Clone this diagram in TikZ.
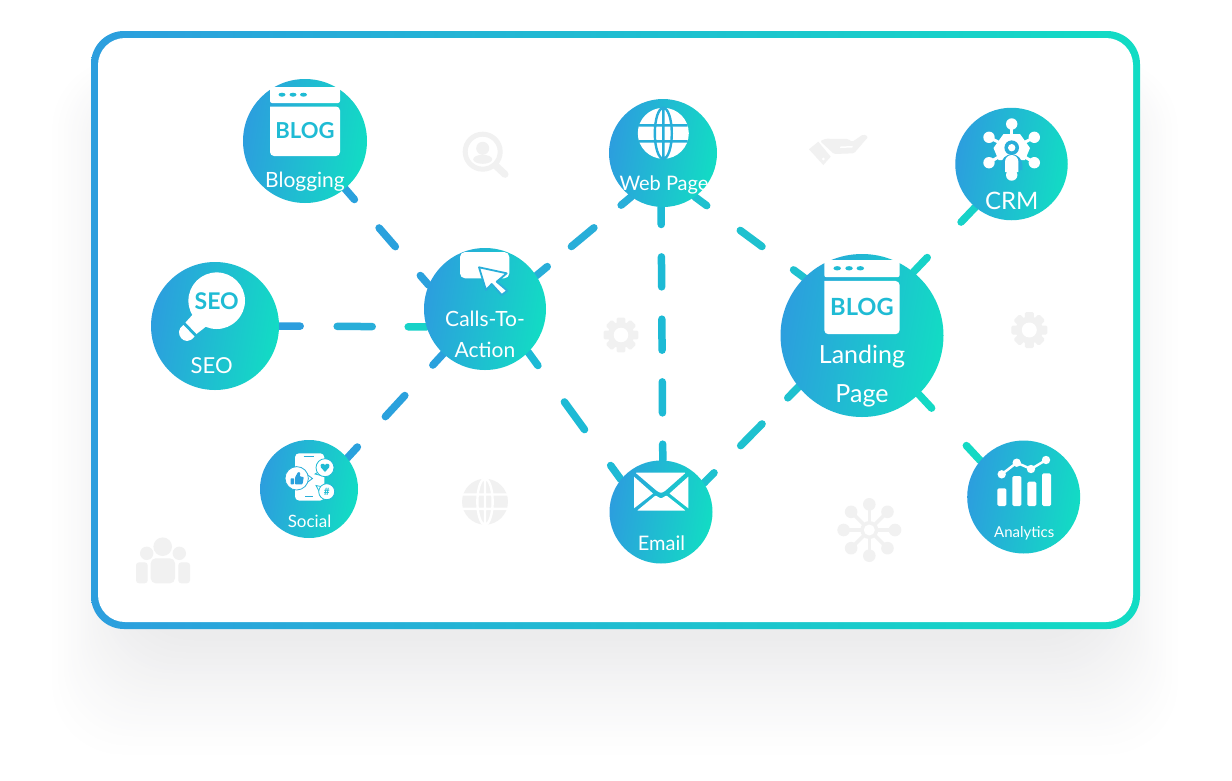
\documentclass[tikz,border=0pt]{standalone}
\usepackage{fontspec}
\setmainfont{Lato}
\usepackage{tikz}
\usetikzlibrary{calc}
\definecolor{hubblue}{HTML}{2C9EDE}
\definecolor{hubteal}{HTML}{12DCC4}
\definecolor{hubmid}{HTML}{1FBBD4}
\definecolor{wmgrey}{HTML}{F1F1F1}
\definecolor{linka}{HTML}{2AA1DD}
\definecolor{linkb}{HTML}{28AED9}
\definecolor{linkc}{HTML}{1DBAD5}
\definecolor{linkd}{HTML}{1EC1CF}
\definecolor{linke}{HTML}{17D2C8}
\definecolor{linkf}{HTML}{14D9C4}
\definecolor{haze}{HTML}{20202E}
\pgfdeclarelayer{back}
\pgfdeclarelayer{links}
\pgfsetlayers{back,links,main}
\tikzset{
  blogwin/.pic={
    \fill [white, rounded corners=2pt] (0, 0) rectangle (70, 16);
    \fill [white, rounded corners=4pt] (0, 19.5) -- (0, 69) -- (70, 69) -- (70, 19.5) [sharp corners] -- cycle;
    \foreach \x in {12, 23, 33.5}
      \fill [hubmid] (\x, 7.7) ellipse [x radius=3.5pt, y radius=2pt];
    \node (-word) at (35, 44) [text=hubmid, transform shape, font=\fontsize{22}{22}\selectfont\bfseries] {BLOG};
  },
  gearicon/.pic={
    \fill [wmgrey] (0, 0) circle [radius=13.5pt];
    \foreach \a in {0, 45, ..., 315}
      \fill [wmgrey, rotate=\a, rounded corners=1.5pt] (-4.5, -18) rectangle (4.5, -9);
    \fill [white] (0, 0) circle [radius=7.5pt];
  }
}
\newcommand{\globeicon}[5]{
  \begin{scope}[shift={(#1, #2)}, scale=#3]
    \fill [#4] (0, 0) circle [radius=25.5pt];
    \draw [#5, line width=2.4pt] (0, -25.5) -- (0, 25.5) (0, 0) ellipse [x radius=8.5pt, y radius=25.5pt]
      (-24.2, -8) -- (24.2, -8) (-24.2, 8) -- (24.2, 8);
  \end{scope}
}
\begin{document}
\begin{tikzpicture}[x=1pt, y=-1pt,
    hub/.style={circle, inner sep=0pt, left color=hubblue, right color=hubteal, shading angle=80},
    hubtext/.style={text=white, anchor=base, inner sep=0pt},
    link/.style={line width=7.5pt, line cap=round}]
\useasboundingbox (0, 0) rectangle (1232, 780);

\begin{pgfonlayer}{back}
\foreach \i in {40, 39, ..., 0} {
  \pgfmathsetmacro\tint{8.5*(1-\i/40)^1.2}
  \fill [haze!\tint!white, rounded corners=70pt] (125-1.9*\i, 90-.8*\i) rectangle (1105+1.9*\i, 640+3*\i);
}
\path [left color=hubblue, right color=hubteal, rounded corners=33pt] (91, 31) rectangle (1140, 629);
\fill [white, rounded corners=27pt] (98, 38) rectangle (1133, 622);
\end{pgfonlayer}

\node (blog) at (305, 141) [hub, minimum size=124pt] {};
\node (seo) at (215, 326) [hub, minimum size=128pt] {};
\node (cta) at (485, 309) [hub, minimum size=122pt] {};
\node (social) at (309, 489) [hub, minimum size=98pt] {};
\node (email) at (661, 512) [hub, minimum size=103pt] {};
\node (web) at (663, 153) [hub, minimum size=108pt] {};
\node (land) at (862, 335.5) [hub, minimum size=163pt] {};
\node (crm) at (1011.5, 164) [hub, minimum size=112.5pt] {};
\node (ana) at (1023.7, 497) [hub, minimum size=113pt] {};

\begin{pgfonlayer}{links}
\draw [link, linka, dash pattern=on 14.4pt off 37.6pt on 24.8pt off 38.2pt on 100pt] (blog.-50) -- (cta.157);
\draw [link, hubblue, dash pattern=on 21pt off 300pt] (seo.0) -- (cta.197);
\draw [link, linkb, dash pattern=on 35pt off 300pt, dash phase=277pt] (seo.0) -- (cta.197);
\draw [link, linke, dash pattern=on 30pt off 300pt, dash phase=201pt] (seo.0) -- (cta.197);
\draw [link, linka, dash pattern=on 15pt off 41.3pt on 28.7pt off 41.4pt on 100pt] (social.39) -- (cta.227);
\draw [link, linkb, dash pattern=on 14.2pt off 31.4pt on 29.3pt off 35.4pt on 100pt] (cta.33) -- (web.234);
\draw [link, linkc, dash pattern=on 16.4pt off 45pt on 34.2pt off 44.4pt on 100pt] (cta.-45) -- (email.141);
\draw [link, linkc, dash pattern=on 17.3pt off 32.4pt on 30pt off 32.3pt on 31pt off 31.7pt on 31pt off 31.3pt on 100pt] (web.-92) -- (email.88);
\draw [link, linkd, dash pattern=on 14.75pt off 41.75pt on 27pt off 39.25pt on 100pt] (web.-54) -- (land.135);
\draw [link, linkd, dash pattern=on 14.5pt off 38pt on 30.5pt off 36.6pt on 100pt] (email.34) -- (land.219);
\draw [link, linke, dash pattern=on 20pt off 49pt on 100pt] (land.51) -- (crm.230);
\draw [link, linkf, dash pattern=on 18.9pt off 51.1pt on 100pt] (land.-46) -- (ana.140);
\end{pgfonlayer}

\pic (blogwin) at (270, 87) {blogwin};
\pic (landwin) [scale=1.075] at (824.3, 260) {blogwin};

\fill [white] (216.7, 300.7) circle [radius=28.3pt];
\fill [white] (195, 312) -- (208, 325) -- (196.5, 334) -- (185.5, 322.5) -- cycle;
\fill [white] (183.5, 325) .. controls (172, 332) and (185, 349) .. (194.5, 336.5) -- cycle;
\node (seoword) at (216.7, 301) [text=hubmid, font=\fontsize{23}{23}\selectfont\bfseries] {SEO};

\fill [white, rounded corners=5pt] (460, 252) rectangle (509.3, 278.3);
\filldraw [white, draw=linkb, line width=1.8pt, line join=round] (479, 267.3) -- (506.7, 273.3) -- (496.7, 281.7) -- (507.3, 290.7)
  -- (501.7, 295) -- (491.7, 284) -- (486, 290) -- cycle;

\fill [white, rounded corners=4pt] (295, 453.3) rectangle (324.3, 500.5);
\draw [linkb, line width=1pt] (303.5, 456) -- (313.5, 456) (305, 496.5) -- (313, 496.5);
\filldraw [white, draw=linkb, line width=.8pt] (305, 473) -- (312.5, 478.5) -- (305, 484) -- cycle;
\filldraw [white, draw=linkb, line width=.8pt] (296.7, 478.3) circle [radius=11.7pt];
\filldraw [white, draw=linkc, line width=.8pt] (319, 471.5) -- (315, 474) -- (321, 475.5) -- cycle;
\filldraw [white, draw=linkc, line width=.8pt] (325, 467.7) circle [radius=9pt];
\filldraw [white, draw=linkc, line width=.8pt] (321, 486.5) -- (316, 485.5) -- (319.5, 492) -- cycle;
\filldraw [white, draw=linkc, line width=.8pt] (326.7, 491.7) circle [radius=8pt];
\fill [linka, rounded corners=.6pt] (290.7, 478.3) rectangle (294, 484.3);
\fill [linka, rounded corners=.8pt] (295, 477.5) -- (298, 472) -- (300.3, 472.5) -- (299.8, 476.5) -- (303.8, 477) -- (302.5, 484.3) -- (295, 484.3) -- cycle;
\fill [hubmid] (325, 472) -- (320.8, 467.3) .. controls (319.5, 463.5) and (323.5, 462.5) .. (325, 465)
  .. controls (326.5, 462.5) and (330.5, 463.5) .. (329.2, 467.3) -- cycle;
\node (sochash) at (326.7, 491.7) [text=hubmid, inner sep=0pt, font=\fontsize{10}{10}\selectfont\bfseries] {\#};

\fill [white, rounded corners=.8pt] (635.5, 472.7) -- (685.7, 472.7) -- (665, 491) -- (661, 493) -- (657, 491) -- cycle;
\fill [white] (634, 476.7) -- (653, 493.5) -- (634, 508.3) -- cycle;
\fill [white] (688.3, 476.7) -- (669.5, 493.5) -- (688.3, 508.3) -- cycle;
\fill [white, rounded corners=.8pt] (637, 510.7) -- (655.5, 495.5) -- (661, 498.5) -- (666.5, 495.5) -- (685.7, 510.7) -- cycle;

\globeicon{663.3}{133.3}{1}{white}{linkb}

\foreach \x/\y in {1011.7/124, 1011.7/175, 989/137.3, 1034.3/137.3, 989/162.7, 1034.3/162.7} {
  \draw [white, line width=3pt] (1011.7, 149) -- (\x, \y);
  \fill [white] (\x, \y) circle [radius=5.7pt];
}
\fill [white] (1003.5, 134) -- (1020, 134) -- (1030, 148) -- (1025, 160) -- (998.5, 160) -- (993.5, 148) -- cycle;
\fill [linkb] (1011.7, 147.7) circle [radius=7.3pt];
\fill [white] (1011.7, 147.7) circle [radius=3.7pt];
\fill [linkb] (1001, 170) -- (1001, 165) arc [start angle=180, end angle=0, radius=10.7pt] -- (1022.4, 170) -- cycle;
\fill [white] (1005, 172) -- (1005, 161.7) arc [start angle=180, end angle=0, radius=6.7pt] -- (1018.4, 172) -- cycle;
\draw [white, line width=3pt] (1011.7, 170) -- (1011.7, 175);

\foreach \l/\t in {997.3/488.3, 1012.3/476, 1027.3/481.7, 1042/473.3}
  \fill [white, rounded corners=1.5pt] (\l, \t) rectangle (\l+9, 506);
\draw [white, line width=2.4pt] (1001.7, 474.3) -- (1016.7, 462.7) -- (1031, 469) -- (1046, 460);
\foreach \x/\y in {1001.7/474.3, 1016.7/462.7, 1031/469, 1046/460}
  \fill [white] (\x, \y) circle [radius=4.2pt];

\draw [wmgrey, line width=5pt] (482.7, 151.7) circle [radius=17.5pt];
\fill [wmgrey] (482.7, 148.3) circle [radius=6.5pt];
\fill [wmgrey] (482.7, 159.3) ellipse [x radius=9.5pt, y radius=4.5pt];
\draw [wmgrey, line width=7pt, line cap=round] (496, 166) -- (505, 174.3);

\fill [wmgrey] (809, 149.3) -- (818.3, 141.7) -- (830.7, 156.7) -- (823.3, 165) -- cycle;
\fill [white] (823.3, 159) circle [radius=1.5pt];
\fill [wmgrey, rounded corners=1.5pt] (820, 141) -- (826, 138.7) -- (848.3, 139) -- (852, 142) -- (863.3, 134.3) -- (868.3, 136.7) -- (854, 153.3) -- (834, 154) -- cycle;
\draw [white, line width=1.5pt] (840, 147.3) -- (852.7, 146.7);

\pic (gearb) at (621, 335) [scale=.97] {gearicon};
\pic (gearc) at (1029.3, 330) {gearicon};

\globeicon{485}{501.7}{.9}{wmgrey}{white}

\foreach \a in {0, 45, ..., 315} {
  \draw [wmgrey, line width=3.5pt] (869.3, 530) -- ++(\a:25.7);
  \fill [wmgrey] (869.3, 530) ++(\a:25.7) circle [radius=6.3pt];
}
\fill [wmgrey] (869.3, 530) circle [radius=9pt];
\fill [white] (869.3, 530) circle [radius=5.5pt];

\fill [wmgrey] (162.7, 546.7) circle [radius=9.3pt];
\fill [wmgrey] (146.7, 553.3) circle [radius=6.7pt];
\fill [wmgrey] (179.3, 553.3) circle [radius=6.7pt];
\fill [wmgrey, rounded corners=5pt] (150.7, 558.3) rectangle (175, 583.3);
\fill [wmgrey, rounded corners=3pt] (136, 562.3) -- (147.7, 562.3) -- (147.7, 583.3) -- (136, 583.3) -- cycle;
\fill [wmgrey, rounded corners=3pt] (178.3, 562.3) -- (190, 562.3) -- (190, 583.3) -- (178.3, 583.3) -- cycle;

\node (blogt) at (305, 187.3) [hubtext, font=\fontsize{21}{21}\selectfont] {Blogging};
\node (seot) at (211.7, 373.5) [hubtext, font=\fontsize{22}{22}\selectfont] {SEO};
\node (ctat) at (485, 334) [text=white, inner sep=0pt, align=center, font=\fontsize{21}{31.3}\selectfont] {Calls-To-\\Action};
\node (socialt) at (309.5, 527.3) [hubtext, font=\fontsize{17}{17}\selectfont] {Social};
\node (emailt) at (661.4, 550) [hubtext, font=\fontsize{20}{20}\selectfont] {Email};
\node (webt) at (664, 190) [hubtext, font=\fontsize{20}{20}\selectfont] {Web Page};
\node (landt) at (862, 376.3) [text=white, inner sep=0pt, align=center, font=\fontsize{25}{39}\selectfont] {Landing\\Page};
\node (crmt) at (1011.7, 209) [hubtext, font=\fontsize{24}{24}\selectfont] {CRM};
\node (anat) at (1024.2, 537.5) [hubtext, font=\fontsize{15}{15}\selectfont] {Analytics};
\end{tikzpicture}
\end{document}
